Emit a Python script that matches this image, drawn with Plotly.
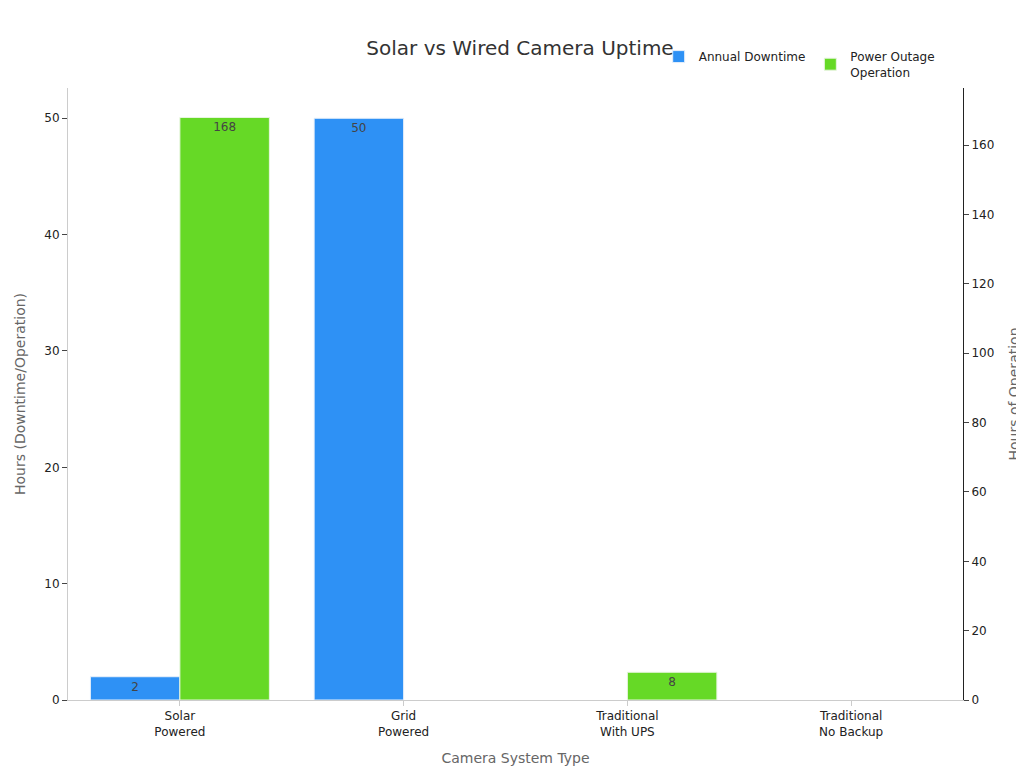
import plotly.graph_objects as go

categories = ["Solar<br>Powered", "Grid<br>Powered", "Traditional<br>With UPS", "Traditional<br>No Backup"]
annual_downtime = [2, 50, None, None]
outage_operation = [168, None, 8, None]

fig = go.Figure()
fig.add_trace(go.Bar(
    x=categories, y=annual_downtime, name="Annual Downtime",
    marker=dict(color="#2E91F5", line=dict(color="#E8F0FA", width=1)),
    text=annual_downtime, textposition="inside", insidetextanchor="end",
    textfont=dict(color="#444", size=12),
    offsetgroup="a", yaxis="y",
))
fig.add_trace(go.Bar(
    x=categories, y=outage_operation, name="Power Outage<br>Operation",
    marker=dict(color="#66D926", line=dict(color="#E8F5E0", width=1)),
    text=outage_operation, textposition="inside", insidetextanchor="end",
    textfont=dict(color="#444", size=12),
    offsetgroup="b", yaxis="y2",
))

fig.update_layout(
    width=1024, height=768,
    title=dict(text="Solar vs Wired Camera Uptime", x=0.5, y=0.957,
               font=dict(size=20, color="#333")),
    font=dict(family="DejaVu Sans", size=12, color="#222"),
    plot_bgcolor="white", paper_bgcolor="white",
    barmode="group", bargap=0.2, bargroupgap=0,
    margin=dict(l=60, r=69, t=80, b=76),
    legend=dict(orientation="h", x=0.66, y=1.075, xanchor="left", yanchor="top",
                font=dict(size=12)),
    xaxis=dict(title=dict(text="Camera System Type", font=dict(size=14, color="#666")),
               showline=True, linecolor="#ccc", ticks="outside", tickcolor="#ccc"),
    yaxis=dict(title=dict(text="Hours (Downtime/Operation)", font=dict(size=14, color="#666")),
               range=[0, 52.6], showgrid=False, showline=True, linecolor="#ccc",
               ticks="outside", tickcolor="#444", zeroline=False),
    yaxis2=dict(title=dict(text="Hours of Operation", font=dict(size=14, color="#666")),
                overlaying="y", side="right", range=[0, 176.5], showgrid=False,
                showline=True, linecolor="#222", ticks="outside", tickcolor="#444",
                zeroline=False),
)

fig.write_html("out.html")
